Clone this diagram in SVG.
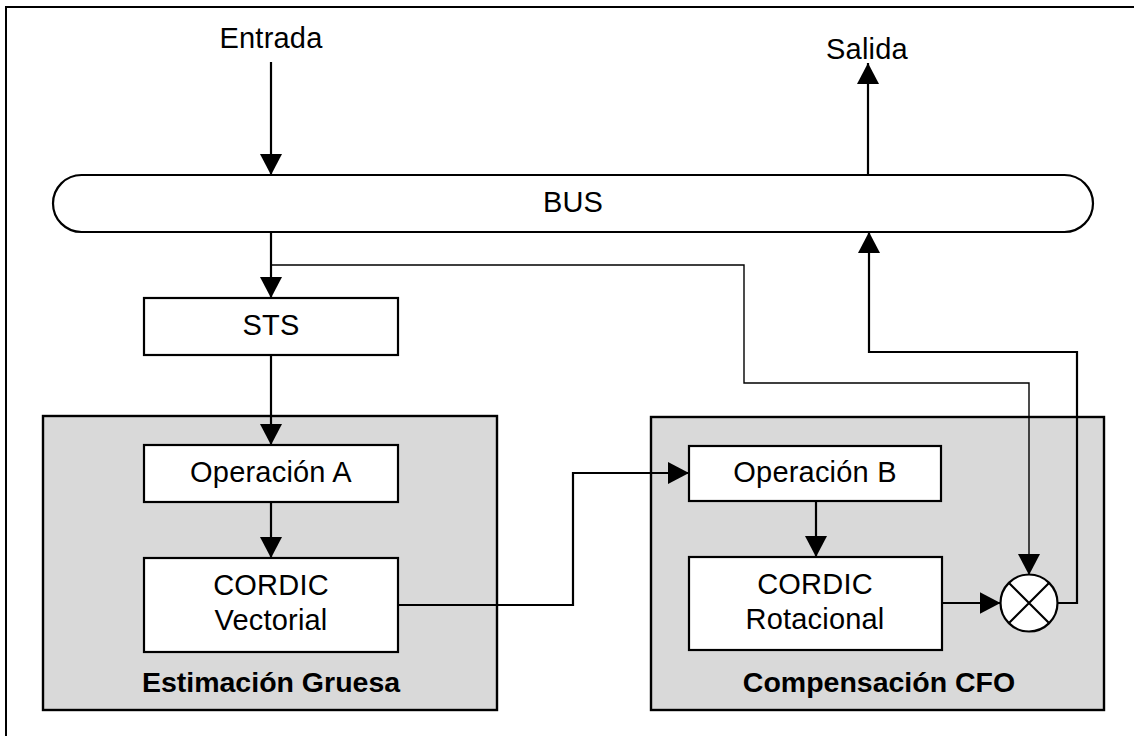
<svg xmlns="http://www.w3.org/2000/svg" width="1134" height="736" viewBox="0 0 1134 736">
  <style>
    .frame { fill: none; stroke: #000; stroke-width: 2; }
    .group { fill: #d9d9d9; stroke: #000; stroke-width: 2.4; }
    .box { fill: #fff; stroke: #000; stroke-width: 2.2; }
    .wire { fill: none; stroke: #000; stroke-width: 2.2; }
    .thin { fill: none; stroke: #000; stroke-width: 1.4; }
    .lbl { font-family: "Liberation Sans", Arial, sans-serif; font-size: 29px; letter-spacing: 0.2px; fill: #000; text-anchor: middle; }
    .title { font-family: "Liberation Sans", Arial, sans-serif; font-size: 28.5px; font-weight: bold; fill: #000; text-anchor: middle; }
  </style>
  <defs>
    <marker id="arrow" markerUnits="userSpaceOnUse" markerWidth="22" markerHeight="22" refX="21" refY="11" orient="auto">
      <path d="M0,0 L21,11 L0,22 z" fill="#000"/>
    </marker>
  </defs>

  <rect width="1134" height="736" fill="#fff"/>
  <rect class="frame" x="6" y="7" width="1140" height="740"/>

  <!-- group panels -->
  <g id="estimacion">
    <rect class="group" x="43" y="416" width="454" height="294"/>
    <text class="title" x="271" y="692">Estimación Gruesa</text>
  </g>
  <g id="compensacion">
    <rect class="group" x="651" y="417" width="453" height="293"/>
    <text class="title" x="879" y="692">Compensación CFO</text>
  </g>

  <!-- nodes -->
  <g id="entrada"><text class="lbl" x="271" y="48">Entrada</text></g>
  <g id="salida"><text class="lbl" x="867" y="59">Salida</text></g>
  <g id="bus">
    <rect class="box" x="53" y="175" width="1040" height="57" rx="28.5" ry="28.5"/>
    <text class="lbl" x="573" y="212">BUS</text>
  </g>
  <g id="sts">
    <rect class="box" x="144" y="298" width="254" height="57"/>
    <text class="lbl" x="271" y="335">STS</text>
  </g>
  <g id="opA">
    <rect class="box" x="144" y="445" width="254" height="57"/>
    <text class="lbl" x="271" y="482">Operación A</text>
  </g>
  <g id="cordicV">
    <rect class="box" x="144" y="558" width="254" height="94"/>
    <text class="lbl" x="271" y="595">CORDIC</text>
    <text class="lbl" x="271" y="630">Vectorial</text>
  </g>
  <g id="opB">
    <rect class="box" x="689" y="446" width="252" height="55"/>
    <text class="lbl" x="815" y="482">Operación B</text>
  </g>
  <g id="cordicR">
    <rect class="box" x="689" y="557" width="253" height="93"/>
    <text class="lbl" x="815" y="594">CORDIC</text>
    <text class="lbl" x="815" y="629">Rotacional</text>
  </g>
  <g id="mixer">
    <circle class="box" cx="1029" cy="603" r="28.5"/>
    <path class="wire" d="M1009,583 L1049,623 M1049,583 L1009,623"/>
  </g>

  <!-- connectors -->
  <g id="connectors">
    <path class="wire" d="M271,62 V175" marker-end="url(#arrow)"/>
    <path class="wire" d="M868,175 V63" marker-end="url(#arrow)"/>
    <path class="wire" d="M271,232 V298" marker-end="url(#arrow)"/>
    <path class="thin" d="M271,265 H744 V383 H1029 V575" marker-end="url(#arrow)"/>
    <path class="wire" d="M271,355 V445" marker-end="url(#arrow)"/>
    <path class="wire" d="M271,502 V558" marker-end="url(#arrow)"/>
    <path class="wire" d="M398,605 H573 V473 H689" marker-end="url(#arrow)"/>
    <path class="wire" d="M816,501 V557" marker-end="url(#arrow)"/>
    <path class="wire" d="M942,603 H1000.5" marker-end="url(#arrow)"/>
    <path class="wire" d="M1057.5,603 H1077 V352 H869 V232" marker-end="url(#arrow)"/>
  </g>
</svg>
